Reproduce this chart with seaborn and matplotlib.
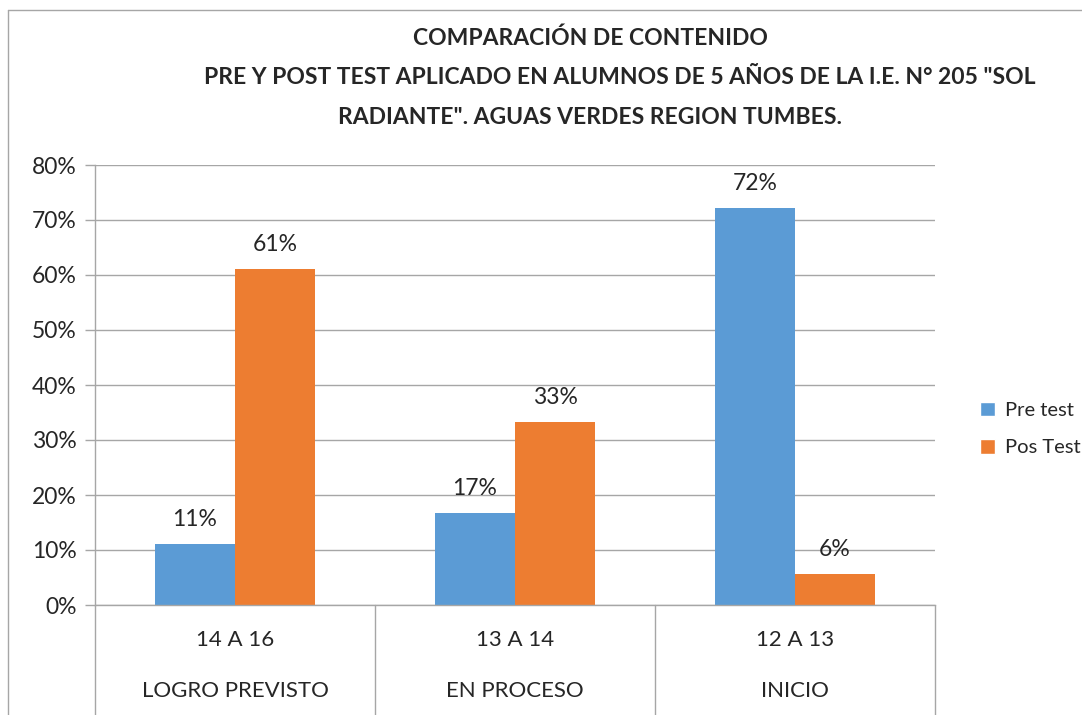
import numpy as np
import pandas as pd
import matplotlib
matplotlib.use("Agg")
import matplotlib.pyplot as plt
import seaborn as sns
from matplotlib.patches import Patch

# data
niveles = ["LOGRO PREVISTO", "EN PROCESO", "INICIO"]
rangos = ["14 A 16", "13 A 14", "12 A 13"]
pre_test = [0.111, 0.167, 0.722]
pos_test = [0.611, 0.333, 0.056]
series = ["Pre test", "Pos Test"]
colores = ["#5B9BD5", "#ED7D31"]

df = pd.DataFrame({
    "rango": rangos * 2,
    "serie": [series[0]] * 3 + [series[1]] * 3,
    "valor": pre_test + pos_test,
})

sns.set_style("white")
plt.rcParams["font.family"] = ["Lato", "DejaVu Sans"]

fig = plt.figure(figsize=(10.82, 7.15), dpi=100)
ax = fig.add_axes([95 / 1082, 1 - 605 / 715, 840 / 1082, 440 / 715])

sns.barplot(data=df, x="rango", y="valor", hue="serie", order=rangos,
            hue_order=series, palette=colores, width=0.572, gap=0,
            saturation=1, linewidth=0, ax=ax, legend=False)

ax.set_ylim(0, 0.8)
ax.set_xlim(-0.5, 2.5)
ax.set_yticks(np.arange(0, 0.81, 0.1))
ax.set_yticklabels([f"{int(round(v * 100))}%" for v in np.arange(0, 0.81, 0.1)], fontsize=16.5)
ax.yaxis.grid(True, color="#A6A6A6", linewidth=1)
ax.set_axisbelow(True)
ax.tick_params(axis="y", length=7, color="#A6A6A6", width=1, pad=6, left=True)
ax.set_xlabel("")
ax.set_ylabel("")
ax.set_xticks([])
for s in ["top", "right"]:
    ax.spines[s].set_visible(False)
for s in ["left", "bottom"]:
    ax.spines[s].set_color("#A6A6A6")
    ax.spines[s].set_linewidth(1)

# value labels
for cont in ax.containers:
    ax.bar_label(cont, labels=[f"{v * 100:.0f}%" for v in cont.datavalues],
                 padding=10, fontsize=16.5)

# two-level category axis
trans = ax.get_xaxis_transform()
for b in [-0.5, 0.5, 1.5, 2.5]:
    ax.plot([b, b], [0, -0.26], transform=trans, color="#A6A6A6", lw=1, clip_on=False)
for i, (r, n) in enumerate(zip(rangos, niveles)):
    ax.text(i, -0.08, r, transform=trans, ha="center", va="center", fontsize=16)
    ax.text(i, -0.195, n, transform=trans, ha="center", va="center", fontsize=16)

# legend
handles = [Patch(facecolor=c, label=s) for c, s in zip(colores, series)]
fig.legend(handles=handles, loc="center left", bbox_to_anchor=(962 / 1082, 1 - 429 / 715),
           frameon=False, fontsize=14.5, handlelength=0.75, handleheight=0.75,
           labelspacing=1.0, handletextpad=0.5)

# title
titulo = ["COMPARACIÓN DE CONTENIDO",
          'PRE Y POST TEST APLICADO EN ALUMNOS DE 5 AÑOS DE LA I.E. N° 205 "SOL',
          'RADIANTE". AGUAS VERDES REGION TUMBES.']
for x, y, t in zip([590, 620, 590], [38, 78, 118], titulo):
    fig.text(x / 1082, 1 - y / 715, t, ha="center", va="center",
             fontsize=16.5, fontweight="bold")

# chart frame
fig.add_artist(plt.Line2D([8 / 1082, 8 / 1082], [0, 1 - 10 / 715], color="#A6A6A6", lw=1))
fig.add_artist(plt.Line2D([8 / 1082, 1], [1 - 10 / 715, 1 - 10 / 715], color="#A6A6A6", lw=1))

fig.savefig("out.png", dpi=100)
